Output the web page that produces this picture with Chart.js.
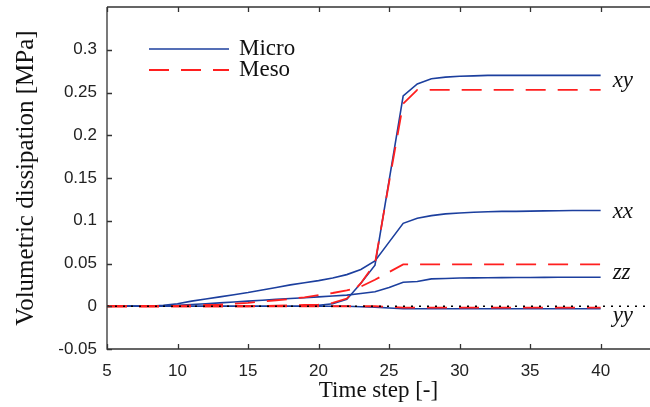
<!DOCTYPE html>
<html>
<head>
<meta charset="utf-8">
<script src="https://cdn.jsdelivr.net/npm/chart.js@4"></script>
<style>
  html, body { margin: 0; padding: 0; background: #fff; }
</style>
</head>
<body>
<canvas id="dissChart" width="650" height="407"></canvas>
<script>
// time steps and dissipation per component [MPa]
var steps = [5, 6, 7, 8, 9, 10, 11, 12, 13, 14, 15, 16, 17, 18, 19, 20, 21, 22,
             23, 24, 25, 26, 27, 28, 29, 30, 31, 32, 33, 34, 35, 36, 37, 38, 39, 40];

var microXY = [0, 0, 0, 0, 0, 0, 0, 0, 0, 0, 0, 0, 0, 0, 0,
               0.001, 0.003, 0.008, 0.027, 0.048, 0.147, 0.246, 0.260, 0.266, 0.268, 0.269,
               0.2695, 0.27, 0.27, 0.27, 0.27, 0.27, 0.27, 0.27, 0.27, 0.27];
var microXX = [0, 0, 0, 0,
               0.001, 0.003, 0.006, 0.0085, 0.011, 0.0135, 0.016, 0.019, 0.022, 0.025,
               0.0275, 0.030, 0.033, 0.037, 0.043, 0.053, 0.075, 0.097, 0.103, 0.106,
               0.108, 0.109, 0.110, 0.1105, 0.111, 0.111, 0.1112, 0.1115, 0.1117, 0.112,
               0.112, 0.112];
var microZZ = [0, 0, 0, 0,
               0.0003, 0.001, 0.002, 0.003, 0.004, 0.005, 0.006, 0.007, 0.008, 0.009,
               0.010, 0.011, 0.012, 0.013, 0.015, 0.017, 0.022, 0.028, 0.029, 0.032,
               0.0325, 0.033, 0.0332, 0.0334, 0.0335, 0.0336, 0.0337, 0.0338, 0.0339, 0.034,
               0.034, 0.034];
var microYY = [0, 0, 0, 0, 0, 0, 0, 0, 0, 0, 0, 0, 0, 0, 0, 0, 0, 0,
               -0.0005, -0.001, -0.002, -0.003, -0.003, -0.003, -0.003, -0.003, -0.003,
               -0.003, -0.003, -0.003, -0.003, -0.003, -0.003, -0.003, -0.003, -0.003];

var mesoXY = [0, 0, 0, 0, 0, 0, 0, 0, 0, 0, 0,
              0.0003, 0.0006, 0.001, 0.0015, 0.002, 0.004, 0.009, 0.027, 0.05, 0.145, 0.237,
              0.253, 0.253, 0.253, 0.253, 0.253, 0.253, 0.253, 0.253, 0.253, 0.253, 0.253,
              0.253, 0.253, 0.253];
var mesoZZ = [0, 0, 0, 0, 0,
              0.0005, 0.001, 0.0015, 0.002, 0.003, 0.004, 0.0055, 0.007, 0.0085, 0.0105,
              0.013, 0.0155, 0.0185, 0.023, 0.031, 0.040, 0.049,
              0.049, 0.049, 0.049, 0.049, 0.049, 0.049, 0.049, 0.049, 0.049, 0.049, 0.049,
              0.049, 0.049, 0.049];
var mesoYY = [0, 0, 0, 0, 0, 0, 0, 0, 0, 0, 0, 0, 0, 0, 0, 0, 0, 0, 0, 0,
              -0.0008, -0.0015, -0.0015, -0.0015, -0.0015, -0.0015, -0.0015, -0.0015,
              -0.0015, -0.0015, -0.0015, -0.0015, -0.0015, -0.0015, -0.0015, -0.0015];

var xTicks = [5, 10, 15, 20, 25, 30, 35, 40];
var yTicks = [-0.05, 0, 0.05, 0.1, 0.15, 0.2, 0.25, 0.3];

// component names written at the end of the curves, and where they sit
var compNames = ['xy', 'xx', 'zz', 'yy'];
var compLabelY = [0.257, 0.103, 0.032, -0.019];

var legendNames = ['Micro', 'Meso'];

var BLUE = '#1c3f9e';
var RED = '#ff1f1f';
var SERIF = '"Liberation Serif", "Times New Roman", serif';
var SANS = '"Liberation Sans", Arial, sans-serif';

function pts(vals) {
    return steps.map(function(t, i) { return { x: t, y: vals[i] }; });
}

function micro(vals) {
    return { data: pts(vals), borderColor: BLUE, borderWidth: 1.6, pointRadius: 0, tension: 0 };
}
function meso(vals) {
    return { data: pts(vals), borderColor: RED, borderWidth: 1.8, borderDash: [20, 12],
             pointRadius: 0, tension: 0 };
}

// inward ticks and open frame (left, bottom, top)
var frameTicks = {
    id: 'frameTicks',
    afterDraw: function(chart) {
        var ctx = chart.ctx, a = chart.chartArea;
        var sx = chart.scales.x, sy = chart.scales.y;
        ctx.save();
        ctx.strokeStyle = '#333';
        ctx.lineWidth = 1.3;
        ctx.beginPath();
        ctx.moveTo(a.left, a.top); ctx.lineTo(a.right, a.top);
        ctx.moveTo(a.left, a.top); ctx.lineTo(a.left, a.bottom); ctx.lineTo(a.right, a.bottom);
        xTicks.forEach(function(v) {
            var px = Math.round(sx.getPixelForValue(v)) + 0.5;
            ctx.moveTo(px, a.bottom); ctx.lineTo(px, a.bottom - 5);
            ctx.moveTo(px, a.top); ctx.lineTo(px, a.top + 5);
        });
        yTicks.forEach(function(v) {
            var py = Math.round(sy.getPixelForValue(v)) + 0.5;
            ctx.moveTo(a.left, py); ctx.lineTo(a.left + 5, py);
        });
        ctx.stroke();
        ctx.restore();
    }
};

// legend box in the upper left and component names on the right
var annotations = {
    id: 'annotations',
    afterDatasetsDraw: function(chart) {
        var ctx = chart.ctx, a = chart.chartArea;
        var sx = chart.scales.x, sy = chart.scales.y;
        ctx.save();
        ctx.font = '23px ' + SERIF;
        ctx.fillStyle = '#111';
        ctx.textBaseline = 'alphabetic';
        var styles = [{ c: BLUE, w: 1.6, d: [] }, { c: RED, w: 1.8, d: [20, 12] }];
        legendNames.forEach(function(name, i) {
            var base = a.top + 48 + i * 21;
            ctx.strokeStyle = styles[i].c;
            ctx.lineWidth = styles[i].w;
            ctx.setLineDash(styles[i].d);
            ctx.beginPath();
            ctx.moveTo(a.left + 42, base - 6);
            ctx.lineTo(a.left + 122, base - 6);
            ctx.stroke();
            ctx.fillText(name, a.left + 132, base);
        });
        ctx.setLineDash([]);
        ctx.font = 'italic 23px ' + SERIF;
        var xEnd = sx.getPixelForValue(steps[steps.length - 1]) + 12;
        compNames.forEach(function(name, i) {
            ctx.fillText(name, xEnd, sy.getPixelForValue(compLabelY[i]));
        });
        ctx.restore();
    }
};

new Chart(document.getElementById('dissChart'), {
    type: 'line',
    data: {
        datasets: [
            // zero reference line
            { data: [{ x: 5, y: 0 }, { x: 43.5, y: 0 }], borderColor: '#000', borderWidth: 1.5,
              borderDash: [2, 6], pointRadius: 0 },
            meso(mesoXY), meso(mesoZZ), meso(mesoYY),
            micro(microXY), micro(microXX), micro(microZZ), micro(microYY)
        ]
    },
    options: {
        responsive: false,
        animation: false,
        devicePixelRatio: 1,
        layout: { padding: { top: 7, right: 0, left: 0, bottom: 0 } },
        plugins: { legend: { display: false }, tooltip: { enabled: false } },
        scales: {
            x: {
                type: 'linear', min: 5, max: 43.5,
                grid: { display: false, drawTicks: false },
                border: { display: false },
                afterBuildTicks: function(s) { s.ticks = xTicks.map(function(v) { return { value: v }; }); },
                afterFit: function(s) { s.height = 58; s.paddingLeft = 0; s.paddingRight = 0; },
                ticks: { font: { family: SANS, size: 17 }, color: '#222', padding: 12, maxRotation: 0 },
                title: { display: true, text: 'Time step [-]', color: '#111',
                         font: { family: SERIF, size: 23 }, padding: { top: 0, bottom: 2 } }
            },
            y: {
                min: -0.05, max: 0.35,
                grid: { display: false, drawTicks: false },
                border: { display: false },
                afterBuildTicks: function(s) { s.ticks = yTicks.map(function(v) { return { value: v }; }); },
                afterFit: function(s) { s.width = 107; s.paddingTop = 0; s.paddingBottom = 0; },
                ticks: { font: { family: SANS, size: 17 }, color: '#222', padding: 10,
                         callback: function(v) { return String(Math.round(v * 100) / 100); } },
                title: { display: true, text: 'Volumetric dissipation [MPa]', color: '#111',
                         font: { family: SERIF, size: 25 }, padding: { top: 11, bottom: 0 } }
            }
        }
    },
    plugins: [frameTicks, annotations]
});
</script>
</body>
</html>
